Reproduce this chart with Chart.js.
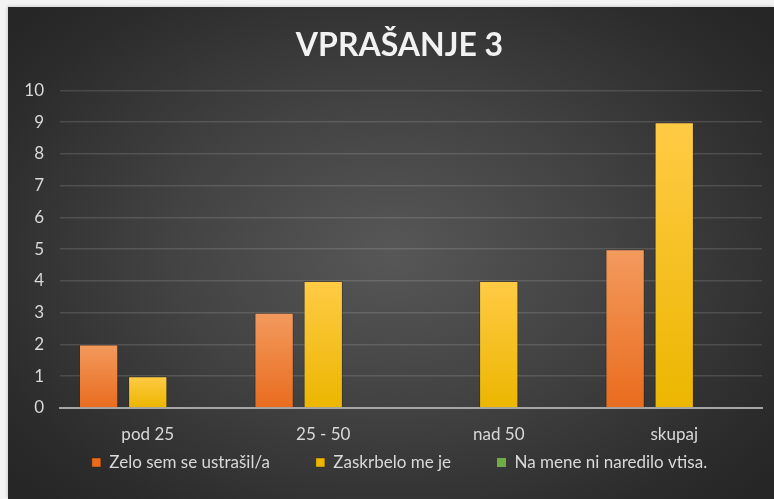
<!DOCTYPE html>
<html>
<head>
<meta charset="utf-8">
<script src="https://cdn.jsdelivr.net/npm/chart.js@4"></script>
<style>
  html, body { margin: 0; padding: 0; background: #f3f3f3; }
  #frame {
    position: absolute; left: 8px; top: 7px; width: 766px; height: 492px;
    background: radial-gradient(ellipse 65% 70% at 50% 50%, #575757 0%, #424242 45%, #2c2c2c 85%, #262626 100%);
    box-shadow: -1px -1px 3px rgba(0,0,0,0.15);
  }
  canvas { display: block; }
</style>
</head>
<body>
<div id="frame"><canvas id="canvas" width="766" height="492"></canvas></div>
<script>
var categories = ["pod 25", "25 - 50", "nad 50", "skupaj"];
var seriesNames = ["Zelo sem se ustrašil/a", "Zaskrbelo me je", "Na mene ni naredilo vtisa."];
var scaredValues = [2, 3, 0, 5];
var worriedValues = [1, 4, 4, 9];
var noImpressionValues = [0, 0, 0, 0];
var yTicks = [0, 1, 2, 3, 4, 5, 6, 7, 8, 9, 10];

var FONT = "Lato";

// vertical gradient per bar, light at top to darker at bottom
function barGradient(top, bottom) {
    return function (context) {
        var chart = context.chart;
        if (!chart.chartArea) return bottom;
        var yScale = chart.scales.y;
        var v = context.raw || 0;
        var y0 = yScale.getPixelForValue(0);
        var y1 = yScale.getPixelForValue(v);
        if (y0 === y1) y1 = y0 - 1;
        var g = chart.ctx.createLinearGradient(0, y1, 0, y0);
        g.addColorStop(0, top);
        g.addColorStop(1, bottom);
        return g;
    };
}

var ctx = document.getElementById("canvas").getContext("2d");
var chart = new Chart(ctx, {
    type: "bar",
    data: {
        labels: categories,
        datasets: [
            { label: seriesNames[0], data: scaredValues, backgroundColor: barGradient("#f39a5e", "#e96c1e"), borderColor: "rgba(40,20,0,0.35)", borderWidth: 1 },
            { label: seriesNames[1], data: worriedValues, backgroundColor: barGradient("#ffcb45", "#ecb600"), borderColor: "rgba(40,30,0,0.35)", borderWidth: 1 },
            { label: seriesNames[2], data: noImpressionValues, backgroundColor: "#6fac46", borderColor: "rgba(0,0,0,0)", borderWidth: 0 }
        ]
    },
    options: {
        responsive: false,
        animation: false,
        datasets: { bar: { categoryPercentage: 0.84, barPercentage: 0.8 } },
        layout: { padding: { left: 17, right: 0, top: 0, bottom: 18 } },
        plugins: {
            title: {
                display: true,
                text: "VPRAŠANJE 3",
                color: "#f2f2f2",
                font: { family: FONT, size: 32, weight: "bold" },
                padding: { top: 19, bottom: 26 }
            },
            legend: {
                position: "bottom",
                labels: {
                    color: "#d9d9d9",
                    font: { family: FONT, size: 17 },
                    boxWidth: 9,
                    boxHeight: 9,
                    padding: 46
                }
            },
            tooltip: { enabled: false }
        },
        scales: {
            x: {
                grid: { display: false, drawTicks: false },
                border: { display: true, color: "#a6a6a6", width: 2 },
                // mirrored so the labels are not clipped to the zero-height axis box
                ticks: { color: "#d9d9d9", font: { family: FONT, size: 17 }, padding: -37, mirror: true },
                afterFit: function (scale) { scale.height = 0; }
            },
            y: {
                min: 0,
                max: 10,
                afterBuildTicks: function (scale) {
                    scale.ticks = yTicks.map(function (v) { return { value: v }; });
                },
                grid: {
                    color: function (c) { return c.tick && c.tick.value === 0 ? "rgba(0,0,0,0)" : "rgba(255,255,255,0.13)"; },
                    lineWidth: 1.5,
                    drawTicks: false
                },
                border: { display: false },
                ticks: { color: "#d9d9d9", font: { family: FONT, size: 17 }, padding: 16 },
                afterFit: function (scale) { scale.width = 35; }
            },
            // empty right-hand spacer so the plot ends where the reference does
            yRight: {
                type: "linear",
                position: "right",
                display: true,
                grid: { display: false, drawTicks: false },
                border: { display: false },
                ticks: { display: false },
                afterFit: function (scale) { scale.width = 12; }
            }
        }
    }
});
</script>
</body>
</html>
